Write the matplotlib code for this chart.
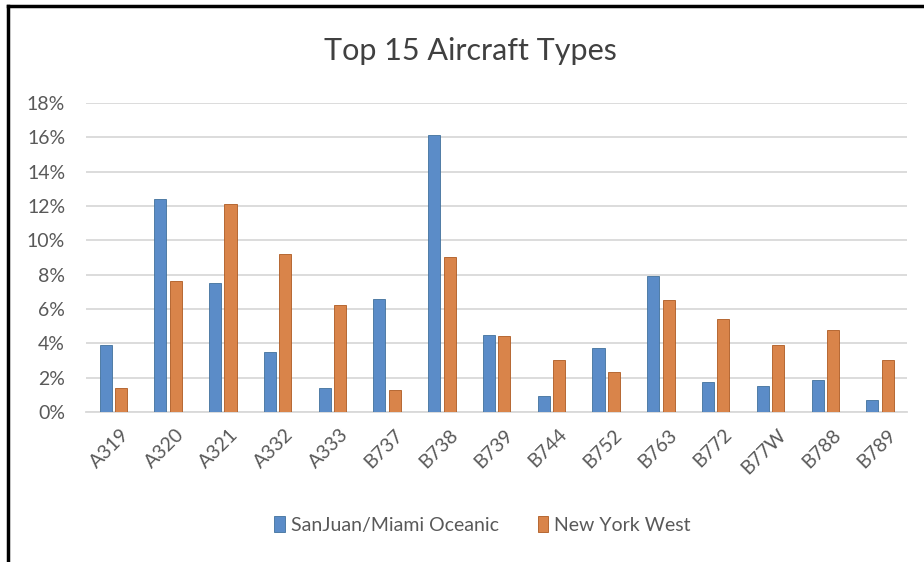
import matplotlib.pyplot as plt
import matplotlib.transforms as mtransforms
from matplotlib.lines import Line2D
from matplotlib.ticker import FuncFormatter
import numpy as np

# Share of flights by aircraft type
types = ["A319", "A320", "A321", "A332", "A333", "B737", "B738", "B739",
         "B744", "B752", "B763", "B772", "B77W", "B788", "B789"]
sanjuan_miami = [3.9, 12.4, 7.5, 3.5, 1.4, 6.6, 16.1, 4.5,
                 0.95, 3.75, 7.9, 1.75, 1.5, 1.85, 0.7]
new_york_west = [1.4, 7.6, 12.1, 9.2, 6.2, 1.3, 9.0, 4.4,
                 3.0, 2.3, 6.5, 5.4, 3.9, 4.75, 3.0]

plt.rcParams['font.family'] = ['Lato', 'DejaVu Sans']

fig = plt.figure(figsize=(9.24, 5.62), dpi=100)
ax = fig.add_axes([0.093, 0.267, 0.889, 0.55])

x = np.arange(len(types))
w = 0.22
ax.bar(x - 0.14, np.array(sanjuan_miami) / 100, w, color='#5B8CC8',
       edgecolor='#41719C', linewidth=0.6, label='SanJuan/Miami Oceanic', zorder=3)
ax.bar(x + 0.14, np.array(new_york_west) / 100, w, color='#D9844A',
       edgecolor='#AE5A21', linewidth=0.6, label='New York West', zorder=3)

ax.set_xlim(-0.5, len(types) - 0.5)
ax.set_ylim(0, 0.18)
ax.set_yticks(np.arange(0, 0.181, 0.02))
ax.yaxis.set_major_formatter(FuncFormatter(lambda v, p: f"{v * 100:.0f}%"))
ax.grid(axis='y', color='#D9D9D9', linewidth=1.3, zorder=0)
for s in ['top', 'right', 'left']:
    ax.spines[s].set_visible(False)
ax.spines['bottom'].set_color('#D9D9D9')
ax.spines['bottom'].set_linewidth(1.3)
ax.tick_params(length=0, labelsize=14, labelcolor='#595959')
ax.tick_params(axis='y', pad=15)
ax.tick_params(axis='x', pad=10)

ax.set_xticks(x)
ax.set_xticklabels(types, rotation=45, ha='right', rotation_mode='anchor')
# nudge the rotated labels a little to the right, like the original
shift = mtransforms.ScaledTranslation(7 / 100, 0, fig.dpi_scale_trans)
for lbl in ax.get_xticklabels():
    lbl.set_transform(lbl.get_transform() + shift)

fig.text(0.509, 0.91, "Top 15 Aircraft Types", ha='center', va='center',
         fontsize=22, color='#404040')

fig.legend(loc='center', bbox_to_anchor=(0.522, 0.066), ncol=2, frameon=False,
           fontsize=14, labelcolor='#595959', handlelength=0.55, handleheight=0.9,
           handletextpad=0.3, columnspacing=2.0)

# black frame on the top and left edges
fig.add_artist(Line2D([8 / 924, 1], [1 - 6 / 562, 1 - 6 / 562],
                      transform=fig.transFigure, color='black', linewidth=2.5))
fig.add_artist(Line2D([8 / 924, 8 / 924], [0, 1 - 6 / 562],
                      transform=fig.transFigure, color='black', linewidth=2.5))

fig.savefig('out.png', dpi=100)
